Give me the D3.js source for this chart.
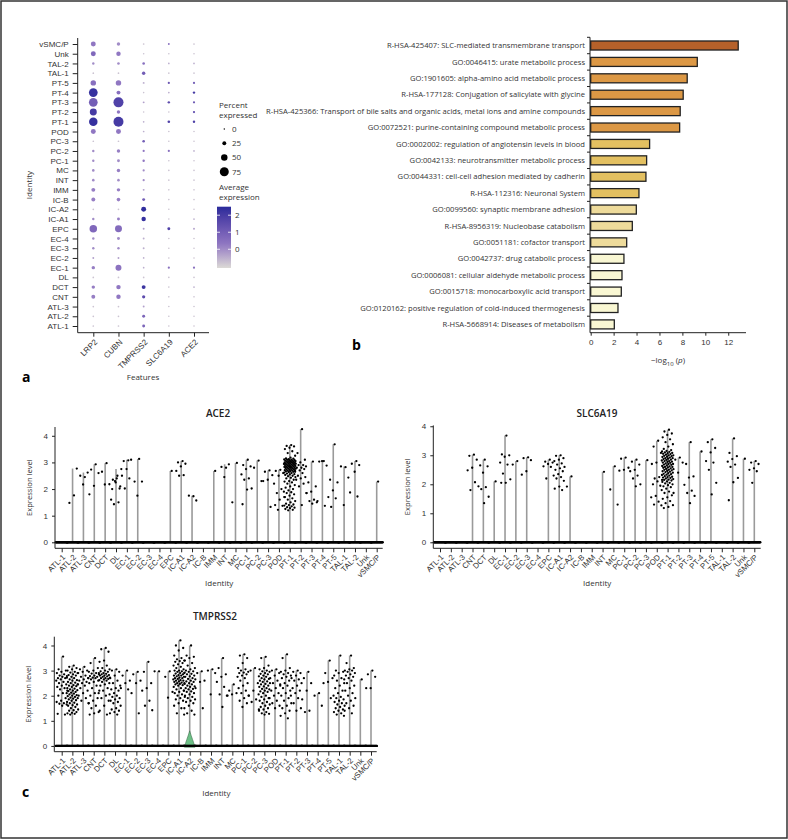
<!DOCTYPE html>
<html>
<head>
<meta charset="utf-8">
<script src="https://cdn.jsdelivr.net/npm/d3@7"></script>
<style>
  body { margin: 0; background: #fff; }
  svg { display: block; font-family: "Open Sans", sans-serif; }
</style>
</head>
<body>
<svg id="fig" width="788" height="840"></svg>
<script>
// ---- data ----
const identities = ["ATL-1", "ATL-2", "ATL-3", "CNT", "DCT", "DL", "EC-1", "EC-2", "EC-3", "EC-4",
    "EPC", "IC-A1", "IC-A2", "IC-B", "IMM", "INT", "MC", "PC-1", "PC-2", "PC-3", "POD",
    "PT-1", "PT-2", "PT-3", "PT-4", "PT-5", "TAL-1", "TAL-2", "Unk", "vSMC/P"];
const features = ["LRP2", "CUBN", "TMPRSS2", "SLC6A19", "ACE2"];

// percent expressed, one row per identity, columns follow `features`
const pctExpressed = [
    [3, 3, 15, 2, 2], [3, 3, 15, 2, 2], [3, 3, 5, 2, 2], [25, 30, 18, 2, 2], [20, 30, 25, 2, 3],
    [3, 3, 3, 2, 2], [20, 45, 3, 8, 8], [5, 5, 3, 2, 2], [10, 10, 5, 2, 2], [10, 15, 5, 2, 2],
    [60, 55, 5, 15, 5], [10, 15, 30, 2, 3], [3, 3, 35, 2, 2], [25, 22, 15, 2, 2], [25, 20, 5, 2, 2],
    [12, 12, 8, 2, 2], [12, 20, 8, 2, 2], [10, 15, 10, 2, 2], [10, 20, 8, 8, 3], [3, 3, 12, 2, 2],
    [35, 35, 3, 2, 2], [70, 85, 3, 12, 10], [55, 20, 2, 2, 8], [72, 85, 5, 10, 8], [72, 25, 2, 3, 10],
    [40, 40, 5, 8, 8], [3, 3, 20, 2, 2], [10, 12, 12, 3, 3], [35, 30, 2, 2, 2], [35, 20, 3, 5, 3]
];
// scaled average expression, same layout
const avgExpression = [
    [-0.8, -0.8, 0.8, -0.8, -0.8], [-0.8, -0.8, 0.8, -0.8, -0.8], [-0.8, -0.8, -0.3, -0.8, -0.8],
    [0.2, 0.3, 1.5, -0.8, -0.8], [0.2, 0.3, 2.2, -0.8, -0.5], [-0.8, -0.8, -0.8, -0.8, -0.8],
    [0.2, 0.4, -0.5, 0.5, 0.5], [-0.3, -0.3, -0.5, -0.8, -0.8], [0, 0, -0.5, -0.8, -0.8],
    [0, 0, -0.5, -0.8, -0.8], [0.7, 0.6, -0.3, 1.8, -0.3], [0, 0.2, 2.3, -0.8, -0.5],
    [-0.8, -0.8, 2.4, -0.8, -0.8], [0.2, 0.2, 1.0, -0.8, -0.8], [0.2, 0.2, -0.3, -0.8, -0.8],
    [0, 0, 0, -0.8, -0.8], [0, 0.2, 0, -0.8, -0.8], [0, 0, 0.3, -0.8, -0.8],
    [0, 0.2, 0.3, 0.5, -0.5], [-0.8, -0.8, 1.0, -0.8, -0.8], [0.3, 0.3, -0.5, -0.8, -0.8],
    [2.3, 2.0, -0.5, 1.8, 1.8], [2.0, 0.3, -0.8, -0.8, 1.5], [1.0, 1.8, -0.3, 1.5, 1.2],
    [2.3, 0.5, -0.8, -0.5, 2.0], [0.5, 0.3, -0.5, 1.2, 1.0], [-0.8, -0.8, 1.0, -0.8, -0.8],
    [0, 0, 0.5, -0.5, -0.5], [0.7, 0.3, -0.8, -0.8, -0.8], [0.3, 0, -0.8, 0.5, -0.8]
];
const pctLegend = [0, 25, 50, 75];
const avgTicks = [0, 1, 2];

const terms = [
    "R-HSA-425407: SLC-mediated transmembrane transport",
    "GO:0046415: urate metabolic process",
    "GO:1901605: alpha-amino acid metabolic process",
    "R-HSA-177128: Conjugation of salicylate with glycine",
    "R-HSA-425366: Transport of bile salts and organic acids, metal ions and amine compounds",
    "GO:0072521: purine-containing compound metabolic process",
    "GO:0002002: regulation of angiotensin levels in blood",
    "GO:0042133: neurotransmitter metabolic process",
    "GO:0044331: cell-cell adhesion mediated by cadherin",
    "R-HSA-112316: Neuronal System",
    "GO:0099560: synaptic membrane adhesion",
    "R-HSA-8956319: Nucleobase catabolism",
    "GO:0051181: cofactor transport",
    "GO:0042737: drug catabolic process",
    "GO:0006081: cellular aldehyde metabolic process",
    "GO:0015718: monocarboxylic acid transport",
    "GO:0120162: positive regulation of cold-induced thermogenesis",
    "R-HSA-5668914: Diseases of metabolism"
];
const logP = [12.87, 9.3, 8.42, 8.07, 7.81, 7.76, 5.14, 4.88, 4.82, 4.21, 3.98, 3.63, 3.14, 2.9, 2.73, 2.67, 2.38, 2.06];
const logPTicks = [0, 2, 4, 6, 8, 10, 12];

const exprTicks = [0, 1, 2, 3, 4];
const nums = s => s.split(" ").map(Number);

// non-zero cells per identity (every identity also has a mass of cells at 0)
const ace2Points = {
    "ATL-2": [1.76, 1.48, 2.77],
    "ATL-3": [2.45, 2.5, 2.62, 2.17],
    "CNT": [2.93, 2.73, 2.6, 2.12, 1.8],
    "DCT": [2.97, 2.65, 2.18, 2.17],
    "DL": [2.5, 2.35, 2.1, 2.25, 1.6, 1.5, 1.43, 2.75, 2.4, 2.0, 2.02, 2.3],
    "EC-1": [3.08, 3.05, 3.1, 2.75, 2.5, 2.4, 2.02],
    "EC-2": [3.13, 2.28, 2.28, 1.75],
    "EPC": [2.68],
    "IC-A1": [3.05, 3.0, 2.95, 2.85, 2.68, 2.52, 2.5],
    "IC-A2": [1.73, 1.75, 1.57],
    "IMM": [2.68],
    "INT": [2.8, 2.83, 2.93, 2.45],
    "MC": [2.98, 1.5],
    "PC-1": [3.1, 2.9, 2.85, 2.75, 2.55, 2.4, 2.35, 2.02, 1.98, 1.43],
    "PC-2": [3.07, 2.8, 2.3],
    "PC-3": [2.7, 2.65, 2.52, 2.35, 2.3, 1.33],
    "POD": [2.72, 2.68, 2.6, 2.5, 2.2, 2.0, 1.85, 1.7, 1.6, 1.4, 1.37, 1.22],
    "PT-1": nums("3.65 3.62 3.6 3.55 3.5 3.42 3.35 3.25 3.18 3.15 3.14 3.12 3.11 3.1 3.1 3.09 3.08 3.07 3.06 3.05 3.05 3.04 3.03 3.02 3.01 3.0 3.0 2.99 2.98 2.97 2.96 2.95 2.95 2.94 2.93 2.92 2.91 2.9 2.9 2.89 2.88 2.87 2.86 2.85 2.85 2.84 2.83 2.82 2.81 2.8 2.8 2.79 2.78 2.77 2.76 2.75 2.74 2.73 2.72 2.71 2.7 2.69 2.68 2.67 2.66 2.65 2.64 2.62 2.6 2.58 2.56 2.55 2.53 2.5 2.48 2.45 2.42 2.4 2.35 2.3 2.28 2.25 2.2 2.15 2.1 2.05 2.0 1.95 1.9 1.88 1.85 1.8 1.75 1.7 1.65 1.6 1.55 1.5 1.45 1.42 1.4 1.38 1.35 1.32 1.3 1.28 1.25 1.22 1.2"),
    "PT-2": [4.25, 3.35, 3.1, 3.0, 2.95, 2.9, 2.9, 2.85, 2.8, 2.8, 2.75, 2.7, 2.65, 2.6, 2.5, 2.45, 2.4, 2.35, 2.2, 2.1, 1.85, 1.4],
    "PT-3": [3.03, 2.25, 2.1, 1.9, 1.85, 1.6, 1.55, 1.5, 1.45],
    "PT-4": [3.05, 3.03, 2.88, 3.05, 1.55, 1.37],
    "PT-5": [3.68, 2.35, 2.25, 1.95, 1.7, 1.65, 1.33],
    "TAL-1": [2.82, 2.85, 2.43, 1.4],
    "TAL-2": [3.05, 2.95, 2.9, 2.65, 1.87, 1.72],
    "vSMC/P": [2.28]
};
const slc6a19Points = {
    "CNT": [3.02, 2.98, 2.85, 2.57, 2.48, 2.07, 1.8],
    "DCT": [2.85, 2.65, 2.62, 2.4, 1.93, 1.9, 1.83, 1.57, 1.35],
    "DL": [2.1],
    "EC-1": [3.68, 3.03, 3.0, 2.95, 2.75, 2.68, 2.37, 2.17, 2.05, 2.05],
    "EC-2": [2.8, 2.68],
    "EC-3": [2.93, 2.9, 2.83, 2.45, 2.33],
    "EPC": [2.85, 2.78, 2.75, 2.7, 2.62, 2.6, 2.2],
    "IC-A1": [3.0, 2.98, 2.9, 2.85, 2.8, 2.72, 2.68, 2.6, 2.55, 2.5, 2.45, 2.35, 2.3, 2.25, 2.2, 2.12, 1.92, 1.85, 1.8],
    "IC-A2": [2.27, 1.92],
    "INT": [2.43],
    "MC": [2.62, 1.82, 1.3],
    "PC-1": [2.92, 2.88, 2.57, 2.5, 2.47],
    "PC-2": [2.85, 2.78, 2.68, 2.5, 2.45, 2.3, 2.2, 2.0, 1.93],
    "PC-3": [2.83],
    "POD": [3.5, 3.3, 3.08, 2.75, 2.7, 2.25, 2.2, 2.15, 2.1, 2.0, 1.95, 1.6, 1.55, 1.4, 1.3, 1.27],
    "PT-1": nums("3.88 3.82 3.75 3.7 3.62 3.55 3.45 3.38 3.3 3.22 3.18 3.15 3.13 3.12 3.1 3.08 3.07 3.05 3.04 3.02 3.0 3.0 2.98 2.97 2.95 2.94 2.92 2.9 2.9 2.88 2.87 2.85 2.84 2.82 2.8 2.8 2.78 2.77 2.75 2.74 2.72 2.7 2.7 2.68 2.67 2.65 2.63 2.62 2.6 2.6 2.58 2.57 2.55 2.53 2.52 2.5 2.5 2.48 2.46 2.45 2.43 2.42 2.4 2.38 2.36 2.35 2.33 2.32 2.3 2.28 2.26 2.25 2.23 2.22 2.2 2.18 2.16 2.15 2.13 2.1 2.08 2.05 2.03 2.0 1.97 1.93 1.9 1.85 1.8 1.75 1.7 1.62 1.55 1.5 1.42 1.35 1.28 1.22 1.18"),
    "PT-2": [2.92, 2.85, 2.75, 2.4, 1.7],
    "PT-3": [3.45, 2.7, 2.27, 2.23, 1.98, 1.78, 1.7, 1.6, 1.35],
    "PT-4": [3.13],
    "PT-5": [3.55, 3.45, 3.25, 3.1, 2.8, 2.75, 2.5, 2.05, 1.65],
    "TAL-2": [3.58, 3.08, 2.97, 2.87, 2.78, 2.68, 2.6, 2.22, 2.07, 1.45],
    "Unk": [2.88],
    "vSMC/P": [2.8, 2.75, 2.7, 2.55, 2.5, 2.45, 2.05]
};
const tmprss2Points = {
    "ATL-1": nums("3.56 3.05 3.0 2.95 2.9 2.85 2.8 2.78 2.75 2.7 2.7 2.65 2.6 2.55 2.5 2.45 2.4 2.35 2.3 2.25 2.2 2.1 2.0 1.9 1.8 1.75 1.7 1.68 1.65 1.6 1.28 1.25"),
    "ATL-2": nums("3.2 3.15 3.1 3.05 3.0 2.95 2.92 2.9 2.85 2.82 2.8 2.75 2.72 2.7 2.65 2.62 2.6 2.55 2.52 2.5 2.45 2.42 2.4 2.38 2.35 2.3 2.28 2.25 2.22 2.2 2.18 2.15 2.12 2.1 2.08 2.05 2.02 2.0 1.98 1.95 1.92 1.9 1.88 1.85 1.82 1.8 1.75 1.72 1.7 1.65 1.62 1.6 1.55 1.5 1.45 1.42 1.4 1.35 1.32 1.3 1.28 1.25"),
    "ATL-3": nums("3.15 3.05 3.0 2.95 2.9 2.8 2.75 2.7 2.65 2.6 2.55 2.5 2.45 2.4 2.3 2.2 2.1 2.0 1.9 1.8 1.7"),
    "CNT": nums("3.5 3.3 3.1 3.0 2.95 2.9 2.88 2.85 2.8 2.78 2.75 2.72 2.7 2.7 2.65 2.6 2.55 2.5 2.4 2.3 2.2 2.1 2.0 1.9 1.8 1.7 1.6 1.5 1.35 1.3 1.25"),
    "DCT": nums("3.9 3.85 3.75 3.4 3.35 3.2 3.1 3.05 3.0 2.97 2.95 2.9 2.9 2.87 2.85 2.82 2.8 2.8 2.77 2.75 2.72 2.7 2.7 2.67 2.65 2.62 2.6 2.55 2.5 2.45 2.4 2.3 2.2 2.1 2.0 1.9 1.8 1.6 1.4 1.25"),
    "DL": nums("3.05 3.0 2.95 2.8 2.7 2.6 2.5 2.4 2.3 2.25 2.2 2.1 2.05 2.0 1.95 1.9 1.85 1.8 1.75 1.7 1.6 1.5 1.45 1.4 1.35 1.3 1.25"),
    "EC-1": [3.0, 2.8, 2.6, 2.5, 2.3, 2.25],
    "EC-2": [2.95, 2.85, 2.6, 2.5, 2.1, 1.3],
    "EC-3": [3.35, 2.95, 2.5, 2.3, 2.2, 1.8, 1.6, 1.42],
    "EC-4": [2.97, 2.97],
    "EPC": [2.97, 2.75, 2.15, 1.92],
    "IC-A1": nums("4.2 4.0 3.9 3.8 3.6 3.5 3.45 3.4 3.38 3.35 3.3 3.25 3.2 3.15 3.1 3.05 3.0 3.0 2.97 2.95 2.92 2.9 2.88 2.85 2.82 2.8 2.8 2.77 2.75 2.72 2.7 2.7 2.67 2.65 2.62 2.6 2.6 2.57 2.55 2.52 2.5 2.5 2.47 2.45 2.42 2.4 2.35 2.3 2.25 2.2 2.15 2.1 2.05 2.0 1.95 1.9 1.85 1.8 1.7 1.6 1.5 1.3 1.25"),
    "IC-A2": nums("4.0 3.6 3.55 3.5 3.4 3.3 3.2 3.1 3.05 3.0 2.97 2.95 2.9 2.87 2.85 2.8 2.77 2.75 2.7 2.67 2.65 2.6 2.57 2.55 2.5 2.47 2.45 2.4 2.37 2.35 2.3 2.27 2.25 2.2 2.17 2.15 2.1 2.05 2.0 1.95 1.9 1.85 1.8 1.75 1.7 1.6 1.5 1.4 1.3 1.25"),
    "IC-B": [2.97, 2.9, 2.6, 2.55, 2.3, 1.5],
    "IMM": [3.05, 3.0, 2.9, 2.05],
    "INT": [3.5, 3.1, 2.85, 2.75, 2.55, 2.35, 2.05, 2.0, 1.55],
    "MC": [2.45, 2.2, 2.1, 2.05, 2.0],
    "PC-1": nums("3.65 3.6 3.5 3.3 3.1 3.05 3.0 2.95 2.92 2.9 2.85 2.8 2.75 2.7 2.6 2.5 2.4 2.3 2.2 2.1 2.0 1.9 1.8 1.7 1.55"),
    "PC-2": [3.1, 3.0, 2.5, 2.2, 2.0, 1.85, 1.75, 1.45],
    "PC-3": nums("3.55 3.5 3.2 3.1 3.05 3.0 2.97 2.95 2.9 2.87 2.85 2.8 2.77 2.75 2.7 2.67 2.65 2.6 2.57 2.55 2.5 2.47 2.45 2.4 2.37 2.35 2.3 2.27 2.25 2.2 2.17 2.15 2.1 2.05 2.0 1.95 1.9 1.85 1.8 1.75 1.7 1.65 1.6 1.55 1.5 1.45 1.4 1.35 1.3 1.28 1.25"),
    "POD": nums("3.05 3.0 2.9 2.8 2.7 2.6 2.5 2.4 2.3 2.2 2.1 2.0 1.9 1.8 1.7 1.6 1.5"),
    "PT-1": nums("3.65 3.5 3.1 3.0 2.95 2.9 2.85 2.8 2.75 2.7 2.6 2.5 2.45 2.4 2.3 2.2 2.1 2.0 1.9 1.8 1.7 1.6 1.5 1.4 1.3 1.2 1.1"),
    "PT-2": nums("3.0 2.95 2.9 2.8 2.7 2.65 2.6 2.5 2.4 2.3 2.2 2.1 2.0 1.9 1.7 1.5 1.4"),
    "PT-3": [2.95, 2.7, 2.5, 2.2, 1.85, 1.4, 1.35],
    "PT-4": [2.1, 2.0, 1.6],
    "PT-5": [3.4, 2.9, 2.7, 2.55, 2.5, 1.9],
    "TAL-1": nums("3.6 3.0 2.95 2.9 2.8 2.7 2.6 2.5 2.4 2.3 2.2 2.1 2.0 1.95 1.9 1.85 1.8 1.75 1.7 1.65 1.6 1.55 1.5 1.45 1.4 1.35 1.3 1.25 1.2"),
    "TAL-2": nums("3.6 3.3 3.1 3.05 3.0 3.0 2.95 2.9 2.85 2.8 2.75 2.7 2.65 2.6 2.5 2.4 2.3 2.2 2.1 2.0 1.9 1.8 1.7 1.6 1.5 1.4 1.3"),
    "Unk": [2.65],
    "vSMC/P": [3.0, 2.85, 2.75, 2.3, 2.3]
};
// density outline of the only visible violin (TMPRSS2, IC-A2): [expression, relative half width]
const icA2Violin = [[-0.05, 1], [0.15, 0.72], [0.35, 0.38], [0.6, 0]];

// ---- drawing ----
const svg = d3.select("#fig");
const textCol = "#333";

svg.append("rect")
    .attr("x", 1).attr("y", 1).attr("width", 786).attr("height", 837)
    .attr("fill", "none").attr("stroke", "#333").attr("stroke-width", 1.5);

function styleAxis(g, size) {
    g.select(".domain").remove();
    g.selectAll("line").attr("stroke", "#222");
    g.selectAll("text").attr("fill", textCol).style("font-size", size + "px");
}

function panelLetter(letter, x, y) {
    svg.append("text").attr("x", x).attr("y", y)
        .style("font-size", "14px").style("font-weight", "700").text(letter);
}

// panel a: dot plot
const gA = svg.append("g");
const dotX = d3.scalePoint().domain(features).range([93.3, 194]);
const dotY = d3.scalePoint().domain(identities).range([326, 44]);
const dotR = d3.scaleLinear().domain([0, 75]).range([0.7, 4.5]);
const dotColor = d3.scaleLinear().domain([-1.1, 0.3, 2.5])
    .range(["#dcdad6", "#9077c2", "#2a2b9b"]).interpolate(d3.interpolateLab);

const dotCells = identities.flatMap((id, i) =>
    features.map((f, j) => ({ id, f, pct: pctExpressed[i][j], avg: avgExpression[i][j] })));

gA.selectAll("circle.dot").data(dotCells).join("circle")
    .attr("class", "dot")
    .attr("cx", d => dotX(d.f))
    .attr("cy", d => dotY(d.id))
    .attr("r", d => dotR(d.pct))
    .attr("fill", d => dotColor(d.avg));

gA.append("g").attr("transform", "translate(77.7,0)")
    .call(d3.axisLeft(dotY).tickSize(5).tickPadding(4))
    .call(g => styleAxis(g, 8));
const dotXAxis = gA.append("g").attr("transform", "translate(0,332.7)")
    .call(d3.axisBottom(dotX).tickSize(4))
    .call(g => styleAxis(g, 8));
dotXAxis.selectAll("text")
    .attr("x", 0).attr("y", 0).attr("dy", 0)
    .attr("text-anchor", "end")
    .attr("transform", "translate(4,10) rotate(-45)");
gA.append("path").attr("d", "M77.7,38V332.7H209").attr("fill", "none").attr("stroke", "#222");

gA.append("text").attr("transform", "translate(32,185) rotate(-90)")
    .attr("text-anchor", "middle").attr("fill", textCol).style("font-size", "8px").text("Identity");
gA.append("text").attr("x", 143).attr("y", 380)
    .attr("text-anchor", "middle").attr("fill", textCol).style("font-size", "8px").text("Features");
panelLetter("a", 22, 382);

// legends for panel a
const gLeg = svg.append("g").attr("fill", textCol).style("font-size", "8px");
gLeg.append("text").attr("x", 219).attr("y", 108).text("Percent");
gLeg.append("text").attr("x", 219).attr("y", 118).text("expressed");
const legY = d3.scalePoint().domain(pctLegend).range([129, 171.7]);
gLeg.selectAll("circle").data(pctLegend).join("circle")
    .attr("cx", 224.3).attr("cy", d => legY(d)).attr("r", d => dotR(d)).attr("fill", "#000");
gLeg.selectAll("text.pl").data(pctLegend).join("text").attr("class", "pl")
    .attr("x", 232).attr("y", d => legY(d)).attr("dy", "0.35em").text(d => d);

gLeg.append("text").attr("x", 219).attr("y", 190).text("Average");
gLeg.append("text").attr("x", 219).attr("y", 200).text("expression");
const barScale = d3.scaleLinear().domain([-1.1, 2.5]).range([268, 206.7]);
const grad = svg.append("defs").append("linearGradient").attr("id", "avgGrad")
    .attr("x1", 0).attr("y1", 1).attr("x2", 0).attr("y2", 0);
d3.range(0, 1.0001, 0.1).forEach(t => {
    grad.append("stop").attr("offset", t)
        .attr("stop-color", dotColor(-1.1 + t * 3.6));
});
gLeg.append("rect").attr("x", 217).attr("y", 206.7).attr("width", 14).attr("height", 61.3)
    .attr("fill", "url(#avgGrad)");
avgTicks.forEach(v => {
    gLeg.append("line").attr("x1", 217).attr("x2", 220).attr("y1", barScale(v)).attr("y2", barScale(v))
        .attr("stroke", "#fff").attr("stroke-width", 0.8);
    gLeg.append("line").attr("x1", 228).attr("x2", 231).attr("y1", barScale(v)).attr("y2", barScale(v))
        .attr("stroke", "#fff").attr("stroke-width", 0.8);
    gLeg.append("text").attr("x", 235).attr("y", barScale(v)).attr("dy", "0.35em").text(v);
});

// panel b: enrichment bars
const gB = svg.append("g");
const barX = d3.scaleLinear().domain([0, 13.55]).range([590.7, 746]);
const barY = d3.scaleBand().domain(terms).range([37.3, 332.6]).paddingInner(0.45).paddingOuter(0.225);
const barColor = d3.scaleThreshold().domain([3, 4.1, 7, 12])
    .range(["#f9f7d3", "#eedb9b", "#e3c061", "#dc9845", "#b6612a"]);
const termData = terms.map((t, i) => ({ t, v: logP[i] }));

gB.selectAll("rect").data(termData).join("rect")
    .attr("x", barX(0))
    .attr("y", d => barY(d.t))
    .attr("width", d => barX(d.v) - barX(0))
    .attr("height", barY.bandwidth())
    .attr("fill", d => barColor(d.v))
    .attr("stroke", "#222").attr("stroke-width", 1.3);

gB.selectAll("text.term").data(termData).join("text").attr("class", "term")
    .attr("x", 585).attr("y", d => barY(d.t) + barY.bandwidth() / 2).attr("dy", "0.35em")
    .attr("text-anchor", "end").attr("fill", textCol).style("font-size", "7.6px")
    .text(d => d.t);

const gap = (barY.step() - barY.bandwidth()) / 2;
gB.selectAll("line.btick").data(terms).join("line").attr("class", "btick")
    .attr("x1", 587).attr("x2", 590)
    .attr("y1", d => barY(d) - gap).attr("y2", d => barY(d) - gap)
    .attr("stroke", "#222");
gB.append("g").attr("transform", "translate(0,332.7)")
    .call(d3.axisBottom(barX).tickValues(logPTicks).tickSize(3).tickPadding(4))
    .call(g => styleAxis(g, 8));
gB.append("path").attr("d", "M590,37.3V332.7H746").attr("fill", "none").attr("stroke", "#222");

const xTitle = gB.append("text").attr("x", 668).attr("y", 363).attr("text-anchor", "middle")
    .attr("fill", textCol).style("font-size", "8px");
xTitle.append("tspan").text("\u2212log");
xTitle.append("tspan").attr("dy", 2.5).style("font-size", "6px").text("10");
xTitle.append("tspan").attr("dy", -2.5).text(" (");
xTitle.append("tspan").style("font-style", "italic").text("p");
xTitle.append("tspan").text(")");
panelLetter("b", 352, 350);

// panel c: violin plots
function jitter(k, width) {
    return (((k + 1) * 0.6180339887) % 1 - 0.5) * 2 * width;
}

function drawViolinPanel(p) {
    const g = svg.append("g");
    const x = d3.scalePoint().domain(identities).range(p.xRange);
    const y = d3.scaleLinear().domain(p.yDomain).range(p.yRange);
    const yAxisPos = p.axisX[0];
    const xAxisPos = p.yRange[0];
    const jw = x.step() * 0.55;

    // degenerate violins: only a thin stroke up to the top cell
    identities.forEach(id => {
        const v = p.points[id];
        if (!v) return;
        g.append("line")
            .attr("x1", x(id)).attr("x2", x(id))
            .attr("y1", y(0)).attr("y2", y(d3.max(v)))
            .attr("stroke", "#9a9a9a").attr("stroke-width", 1.6);
    });

    if (p.violin) {
        const [id, shape] = p.violin;
        const area = d3.area()
            .y(d => y(d[0]))
            .x0(d => x(id) - d[1] * x.step() * 0.5)
            .x1(d => x(id) + d[1] * x.step() * 0.5)
            .curve(d3.curveBasis);
        g.append("path").attr("d", area(shape))
            .attr("fill", "#6cbf86").attr("stroke", "#3d6e4c").attr("stroke-width", 0.6);
    }

    const cells = identities.flatMap(id => (p.points[id] || []).map((v, k) => ({ id, v, k })));
    g.selectAll("circle.cell").data(cells).join("circle").attr("class", "cell")
        .attr("cx", d => x(d.id) + jitter(d.k, jw))
        .attr("cy", d => y(d.v))
        .attr("r", 1.15).attr("fill", "#000");

    // the many zero-expression cells merge into a solid band
    const zeroOffsets = d3.range(-1, 1.001, 0.1);
    const zeros = identities.flatMap(id => zeroOffsets.map(o => ({ id, o })));
    g.selectAll("circle.zero").data(zeros).join("circle").attr("class", "zero")
        .attr("cx", d => x(d.id) + d.o * jw)
        .attr("cy", y(0))
        .attr("r", 1.2).attr("fill", "#000");

    g.append("g").attr("transform", `translate(${yAxisPos},0)`)
        .call(d3.axisLeft(y).tickValues(exprTicks).tickFormat(d3.format("d")).tickSize(3).tickPadding(4))
        .call(a => styleAxis(a, 8));
    const xa = g.append("g").attr("transform", `translate(0,${xAxisPos})`)
        .call(d3.axisBottom(x).tickSize(4))
        .call(a => styleAxis(a, 7.8));
    xa.selectAll("text")
        .attr("x", 0).attr("y", 0).attr("dy", 0)
        .attr("text-anchor", "end")
        .attr("transform", "translate(3.5,9.5) rotate(-45)");
    g.append("path")
        .attr("d", `M${yAxisPos},${p.yRange[1]}V${xAxisPos}H${p.axisX[1]}`)
        .attr("fill", "none").attr("stroke", "#222");

    g.append("text").attr("x", p.title[1]).attr("y", p.title[2]).attr("text-anchor", "middle")
        .style("font-size", "10px").style("font-weight", "600").attr("fill", "#222").text(p.title[0]);
    g.append("text").attr("transform", `translate(${yAxisPos - 23},${(p.yRange[0] + p.yRange[1]) / 2}) rotate(-90)`)
        .attr("text-anchor", "middle").attr("fill", textCol).style("font-size", "7.6px").text("Expression level");
    g.append("text").attr("x", (p.xRange[0] + p.xRange[1]) / 2).attr("y", p.identityY)
        .attr("text-anchor", "middle").attr("fill", textCol).style("font-size", "8px").text("Identity");
}

drawViolinPanel({
    title: ["ACE2", 218, 417],
    points: ace2Points,
    xRange: [61.7, 376.7], axisX: [55, 382.7],
    yDomain: [-0.225, 4.33], yRange: [548.3, 427],
    identityY: 586
});
drawViolinPanel({
    title: ["SLC6A19", 597, 417],
    points: slc6a19Points,
    xRange: [440, 754.3], axisX: [433.3, 760.7],
    yDomain: [-0.207, 4.03], yRange: [548.3, 425.4],
    identityY: 586
});
drawViolinPanel({
    title: ["TMPRSS2", 215, 620],
    points: tmprss2Points,
    violin: ["IC-A2", icA2Violin],
    xRange: [61.7, 371], axisX: [54.3, 376.7],
    yDomain: [-0.23, 4.35], yRange: [751.7, 636.7],
    identityY: 796
});
panelLetter("c", 22, 797);
</script>
</body>
</html>
